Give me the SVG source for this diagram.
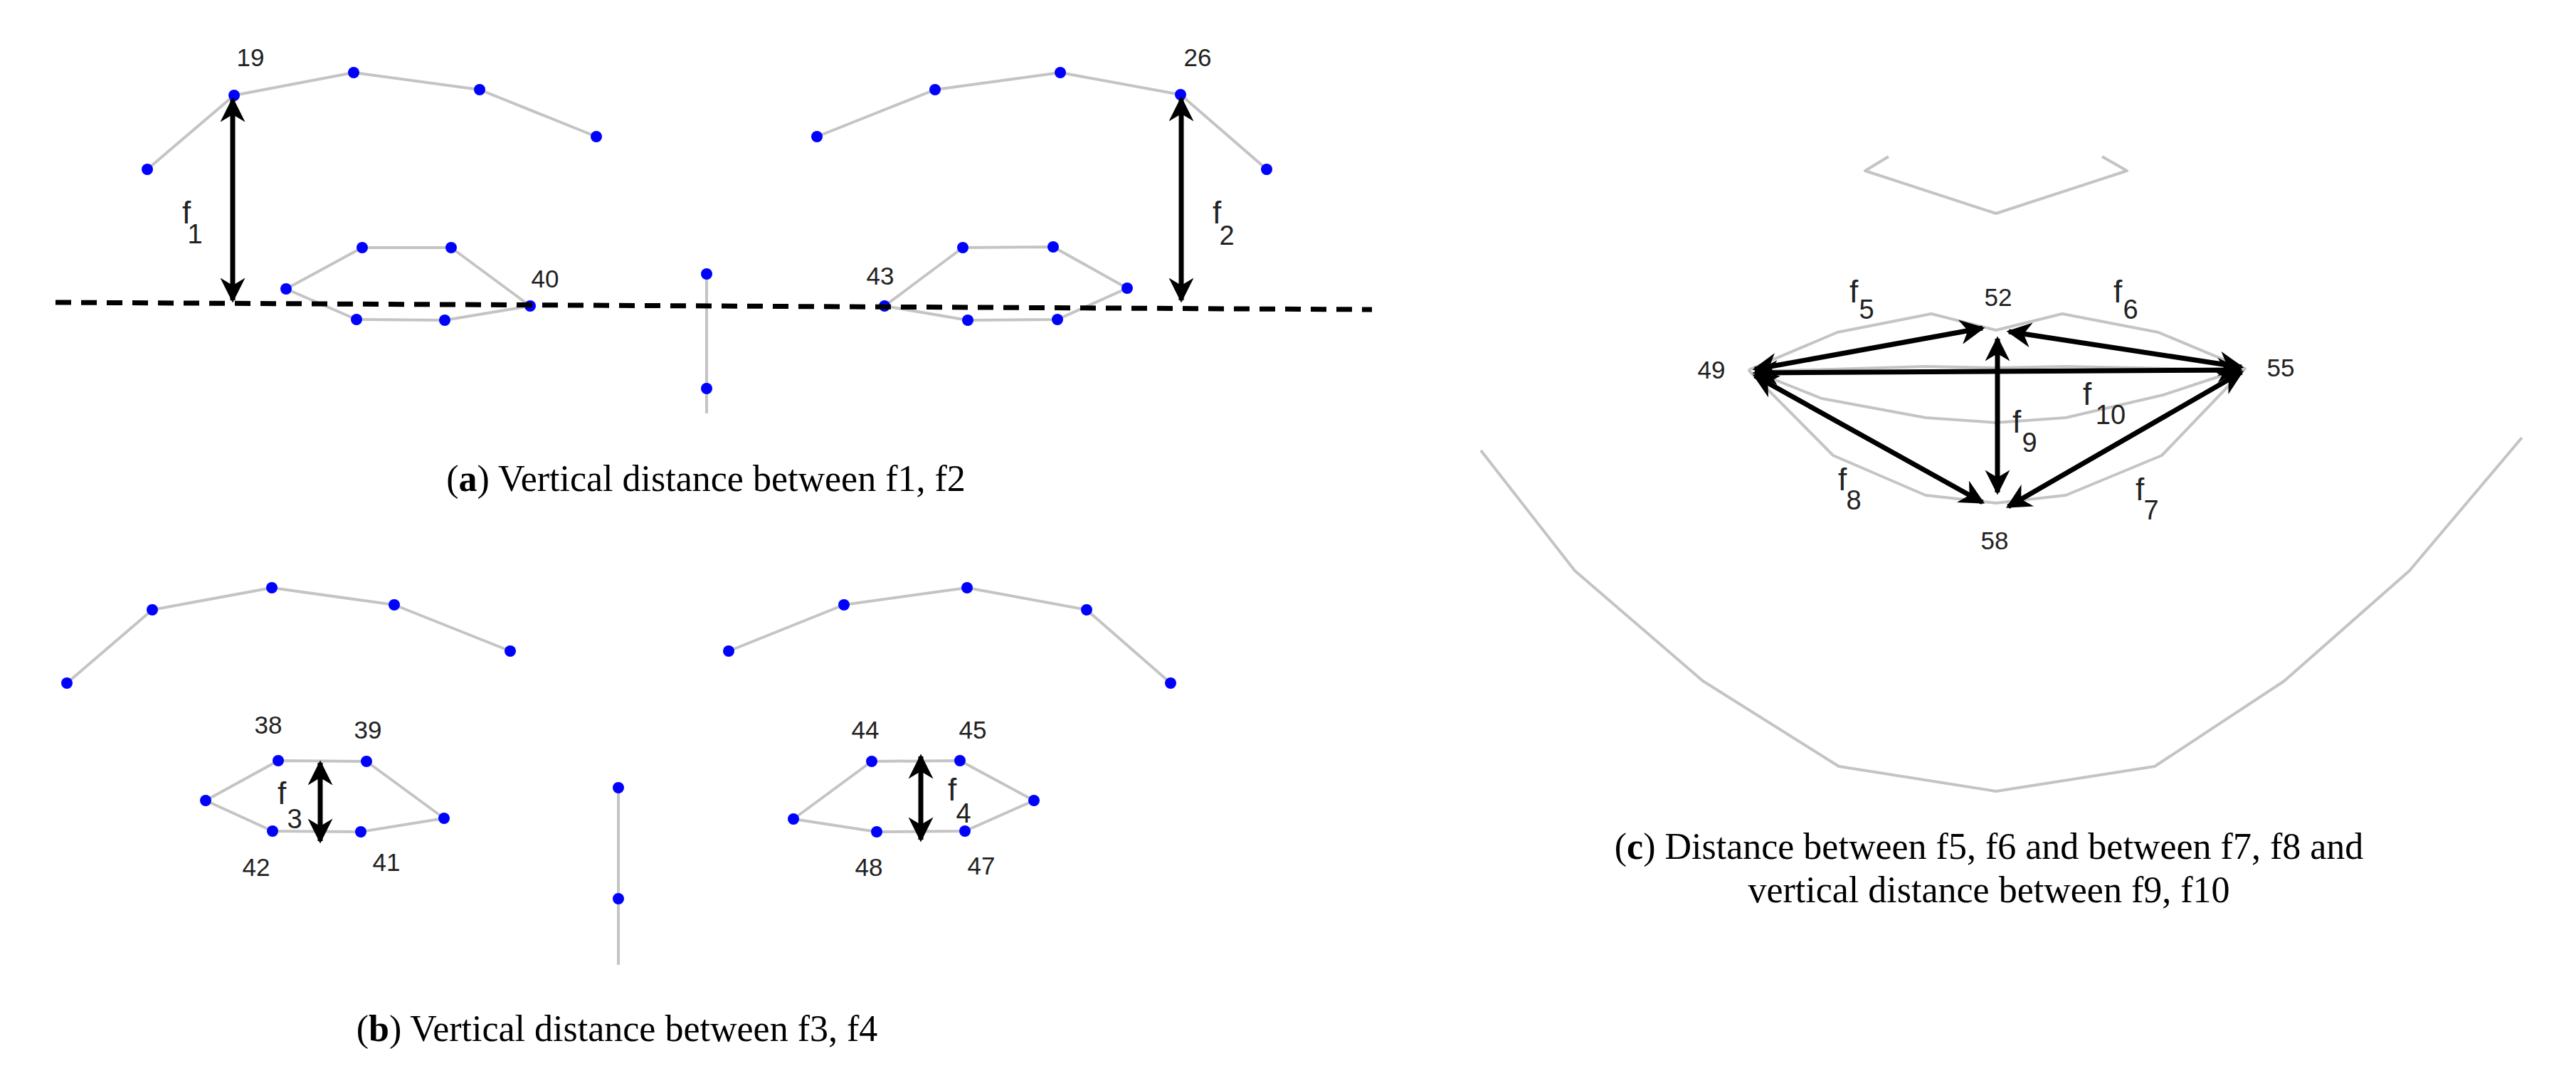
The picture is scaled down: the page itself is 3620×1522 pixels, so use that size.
<svg xmlns="http://www.w3.org/2000/svg" width="3620" height="1522" viewBox="0 0 3620 1522">
<style>
.g{fill:none;stroke:#c4c4c4;stroke-width:4;stroke-linejoin:round}
.d{fill:#0000ff}
.a{stroke:#000;stroke-width:7;fill:none;marker-start:url(#h);marker-end:url(#h)}
.l{font-family:"Liberation Sans",Arial,sans-serif;font-size:35px;fill:#222;text-anchor:middle}
.f{font-size:44px}
.s{font-size:38px}
.c{font-family:"Liberation Serif","Times New Roman",serif;font-size:52px;fill:#000;text-anchor:middle}
</style>
<defs>
<marker id="h" viewBox="0 0 10 10" refX="9" refY="5" markerWidth="5.5" markerHeight="5" orient="auto-start-reverse" markerUnits="strokeWidth"><path d="M0,0 L10,5 L0,10 L3,5 z" fill="#000"/></marker>
</defs>
<rect width="3620" height="1522" fill="#fff"/>
<g id="panel-a">
<polyline class="g" points="207,238 329,134 497,102 674,126 838,192"/>
<polyline class="g" points="1148,192 1314,126 1490,102 1659,133 1780,238"/>
<polygon class="g" points="402,406 509,348 634,348 745,430 625,450 501,449"/>
<polygon class="g" points="1243,430 1353,348 1480,347 1584,405 1486,449 1360,450"/>
<line class="g" x1="993" y1="385" x2="993" y2="581"/>
<g class="d"><circle cx="207" cy="238" r="8"/><circle cx="329" cy="134" r="8"/><circle cx="497" cy="102" r="8"/><circle cx="674" cy="126" r="8"/><circle cx="838" cy="192" r="8"/>
<circle cx="1148" cy="192" r="8"/><circle cx="1314" cy="126" r="8"/><circle cx="1490" cy="102" r="8"/><circle cx="1659" cy="133" r="8"/><circle cx="1780" cy="238" r="8"/>
<circle cx="402" cy="406" r="8"/><circle cx="509" cy="348" r="8"/><circle cx="634" cy="348" r="8"/><circle cx="745" cy="430" r="8"/><circle cx="625" cy="450" r="8"/><circle cx="501" cy="449" r="8"/>
<circle cx="1243" cy="430" r="8"/><circle cx="1353" cy="348" r="8"/><circle cx="1480" cy="347" r="8"/><circle cx="1584" cy="405" r="8"/><circle cx="1486" cy="449" r="8"/><circle cx="1360" cy="450" r="8"/>
<circle cx="993" cy="385" r="8"/><circle cx="993" cy="546" r="8"/></g>
<line x1="78" y1="425" x2="1928" y2="435" stroke="#000" stroke-width="7" stroke-dasharray="22,14"/>
<line class="a" x1="327" y1="140" x2="327" y2="422"/>
<line class="a" x1="1660" y1="139" x2="1660" y2="422"/>
<text class="l" x="352" y="93">19</text><text class="l" x="1683" y="93">26</text>
<text class="l" x="766" y="404">40</text><text class="l" x="1237" y="400">43</text>
<text class="l f" x="262" y="314">f</text><text class="l s" x="274" y="342">1</text>
<text class="l f" x="1710" y="314">f</text><text class="l s" x="1724" y="344">2</text>
<text class="c" x="992" y="690">(<tspan font-weight="bold">a</tspan>) Vertical distance between f1, f2</text>
</g>
<g id="panel-b">
<polyline class="g" points="94,960 214,857 382,826 554,850 717,915"/>
<polyline class="g" points="1024,915 1186,850 1359,826 1527,857 1645,960"/>
<polygon class="g" points="289,1125 391,1069 515,1070 624,1150 507,1169 383,1168"/>
<polygon class="g" points="1115,1151 1225,1070 1349,1069 1453,1125 1356,1168 1232,1169"/>
<line class="g" x1="869" y1="1107" x2="869" y2="1356"/>
<g class="d"><circle cx="94" cy="960" r="8"/><circle cx="214" cy="857" r="8"/><circle cx="382" cy="826" r="8"/><circle cx="554" cy="850" r="8"/><circle cx="717" cy="915" r="8"/>
<circle cx="1024" cy="915" r="8"/><circle cx="1186" cy="850" r="8"/><circle cx="1359" cy="826" r="8"/><circle cx="1527" cy="857" r="8"/><circle cx="1645" cy="960" r="8"/>
<circle cx="289" cy="1125" r="8"/><circle cx="391" cy="1069" r="8"/><circle cx="515" cy="1070" r="8"/><circle cx="624" cy="1150" r="8"/><circle cx="507" cy="1169" r="8"/><circle cx="383" cy="1168" r="8"/>
<circle cx="1115" cy="1151" r="8"/><circle cx="1225" cy="1070" r="8"/><circle cx="1349" cy="1069" r="8"/><circle cx="1453" cy="1125" r="8"/><circle cx="1356" cy="1168" r="8"/><circle cx="1232" cy="1169" r="8"/>
<circle cx="869" cy="1107" r="8"/><circle cx="869" cy="1263" r="8"/></g>
<line class="a" x1="450" y1="1072" x2="450" y2="1182"/>
<line class="a" x1="1294" y1="1063" x2="1294" y2="1180"/>
<text class="l" x="377" y="1031">38</text><text class="l" x="517" y="1038">39</text>
<text class="l" x="360" y="1231">42</text><text class="l" x="543" y="1224">41</text>
<text class="l" x="1216" y="1038">44</text><text class="l" x="1367" y="1038">45</text>
<text class="l" x="1221" y="1231">48</text><text class="l" x="1379" y="1229">47</text>
<text class="l f" x="396" y="1130">f</text><text class="l s" x="414" y="1164">3</text>
<text class="l f" x="1338" y="1125">f</text><text class="l s" x="1354" y="1156">4</text>
<text class="c" x="867" y="1463">(<tspan font-weight="bold">b</tspan>)  Vertical distance between f3, f4</text>
</g>
<g id="panel-c">
<polyline class="g" points="2654,220 2621,240 2805,300 2989,240 2954,220"/>
<polyline class="g" points="2081,633 2213,802 2393,957 2584,1077 2805,1112 3028,1077 3210,957 3386,802 3544,615"/>
<polyline class="g" points="2457,520 2582,467 2714,441 2805,464 2898,441 3033,467 3155,518 3038,640 2903,696 2805,707 2706,696 2576,640 2457,520"/>
<polyline class="g" points="2470,522 2706,515 2805,517 2903,515 3140,520"/>
<polyline class="g" points="2470,524 2560,560 2706,587 2805,594 2903,587 3040,555 3140,522"/>
<line class="a" x1="2466" y1="519" x2="2786" y2="461"/>
<line class="a" x1="2823" y1="466" x2="3150" y2="516"/>
<line class="a" x1="2466" y1="524" x2="3148" y2="520"/>
<line class="a" x1="2807" y1="476" x2="2807" y2="692"/>
<line class="a" x1="2466" y1="528" x2="2786" y2="706"/>
<line class="a" x1="2822" y1="712" x2="3150" y2="523"/>
<text class="l f" x="2605" y="425">f</text><text class="l s" x="2623" y="448">5</text>
<text class="l" x="2808" y="430">52</text>
<text class="l f" x="2976" y="425">f</text><text class="l s" x="2994" y="448">6</text>
<text class="l" x="2405" y="532">49</text><text class="l" x="3205" y="529">55</text>
<text class="l f" x="2933" y="569">f</text><text class="l s" x="2966" y="596">10</text>
<text class="l f" x="2834" y="608">f</text><text class="l s" x="2852" y="635">9</text>
<text class="l f" x="2589" y="689">f</text><text class="l s" x="2605" y="716">8</text>
<text class="l f" x="3007" y="703">f</text><text class="l s" x="3023" y="730">7</text>
<text class="l" x="2803" y="772">58</text>
<text class="c" x="2795" y="1207">(<tspan font-weight="bold">c</tspan>) Distance between f5, f6 and between f7, f8 and</text>
<text class="c" x="2795" y="1268">vertical distance between f9, f10</text>
</g>
</svg>
